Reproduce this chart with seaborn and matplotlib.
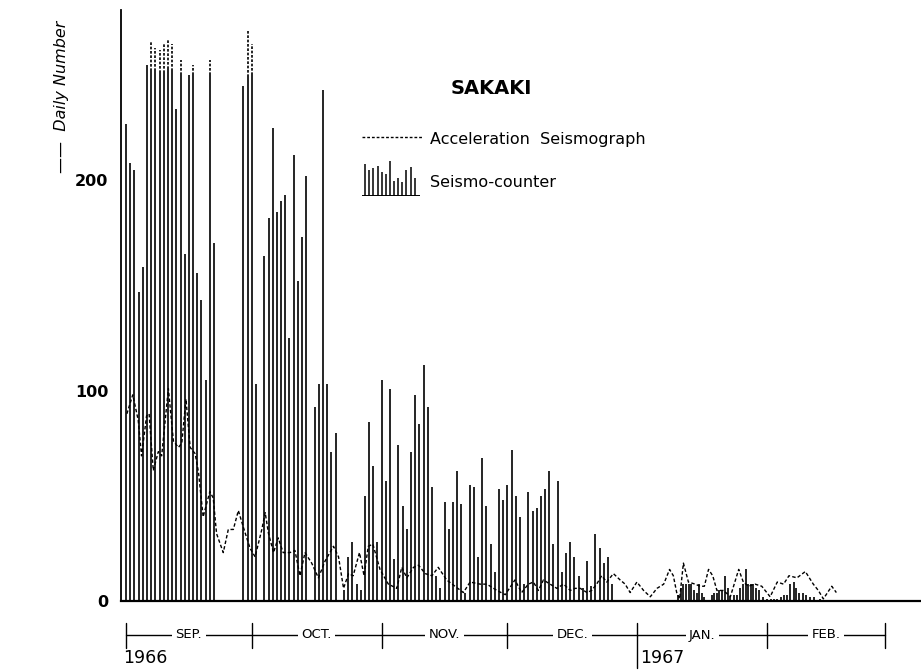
# SAKAKI daily earthquake numbers, Sep 1966 - Feb 1967
import numpy as np
import pandas as pd
import matplotlib
matplotlib.use("Agg")
import matplotlib.pyplot as plt
import seaborn as sns
from matplotlib.lines import Line2D
from matplotlib.transforms import blended_transform_factory
from matplotlib.ticker import MultipleLocator, FuncFormatter

# ==============================
# DATA  (day 0 = 1 Sep 1966)
# ==============================
# seismo-counter, daily number
sep_day = list(range(0, 22))
sep_num = [227, 208, 205, 147, 159, 255, 252, 252, 251, 251, 253, 252,
           234, 250, 165, 250, 250, 156, 143, 105, 250, 170]

oct_day = [28, 29, 30, 31, 33, 34, 35, 36, 37, 38, 39, 40, 41, 42, 43,
           45, 46, 47, 48, 49, 50, 52]
oct_num = [245, 249, 250, 103, 164, 182, 225, 185, 190, 193, 125, 212, 152,
           173, 202, 92, 103, 243, 103, 71, 80, 5]

novdec_day = list(range(53, 117))
novdec_num = [21, 28, 8, 5, 50, 85, 64, 28, 105, 57, 101, 20, 74, 45, 34, 71,
              98, 84, 112, 92, 54, 12, 6, 47, 34, 47, 62, 46, 4, 55, 54, 21,
              68, 45, 27, 14, 53, 48, 55, 72, 50, 40, 8, 52, 43, 44, 50, 53,
              62, 27, 57, 14, 23, 28, 21, 12, 6, 19, 7, 32, 25, 18, 21, 8]

janfeb_day = [131.8, 132.4, 133.0, 133.6, 134.3, 134.9, 135.6, 136.2, 136.8,
              137.5, 138.0, 139.8, 140.4, 141.0, 141.6, 142.2, 143.0, 143.6,
              144.2, 145.0, 145.8, 146.6, 147.3, 148.0, 148.5, 149.1, 149.7,
              150.4, 151.1, 152.1, 152.9, 153.9, 154.7, 155.4, 156.2, 157.0,
              157.8, 158.5, 159.3, 159.9, 160.7, 161.5, 162.3, 163.2, 164.2,
              165.6]
janfeb_num = [3, 6, 8, 8, 8, 8, 5, 4, 8, 4, 2, 3, 4, 4, 5, 5, 12, 6, 2, 3, 3,
              6, 8, 15, 8, 8, 8, 6, 5, 2, 1, 1, 1, 1, 2, 3, 3, 8, 9, 6, 4, 4,
              3, 2, 2, 1]

# days where the acceleration seismograph count tops the counter bar
over_day = [6, 7, 8, 9, 10, 11, 13, 16, 20, 29, 30]
over_num = [266, 263, 262, 265, 267, 265, 257, 255, 257, 271, 265]

# acceleration seismograph (dashed curve)
accel_day = [0.2, 1.6, 2.9, 3.7, 4.9, 5.5, 6.5, 7.7, 8.5, 10.1,
             11.3, 12.5, 13.3, 14.3, 15.3, 16.5, 17.3, 18.4, 20.0, 20.8,
             21.6, 23.2, 24.4, 25.6, 26.8, 28.0, 29.6, 30.8, 32.4, 33.2,
             34.0, 35.2, 36.3, 37.5, 39.1, 40.3, 41.5, 42.7, 44.3, 45.9,
             47.5, 49.5, 50.7, 51.9, 53.1, 54.2, 55.7, 56.8, 57.8, 58.9,
             60.6, 62.6, 64.6, 65.8, 67.0, 68.6, 69.8, 71.4, 73.0, 74.5,
             76.5, 78.5, 80.5, 82.1, 84.5, 86.1, 88.5, 90.5, 92.8, 94.4,
             96.0, 97.2, 98.4, 99.6, 101.2, 102.8, 104.4, 106.0, 107.2, 108.4,
             110.0, 111.1, 112.3, 113.5, 114.7, 116.3, 117.9, 119.1, 120.3, 121.9,
             123.5, 125.1, 126.7, 128.3, 129.7, 130.6, 131.4, 132.1, 133.0, 134.2,
             135.8, 137.0, 138.0, 139.0, 140.0, 141.0, 142.6, 144.2, 146.2, 147.3,
             148.5, 150.1, 151.7, 153.7, 155.4, 156.9, 158.2, 160.1, 162.1, 164.0,
             165.2, 166.4, 168.4, 169.5]
accel_num = [89, 98, 86, 69, 88, 89, 62, 71, 69, 101,
             76, 73, 75, 96, 73, 70, 61, 40, 52, 49,
             32, 23, 34, 34, 43, 35, 25, 21, 34, 42,
             32, 23, 30, 23, 23, 24, 12, 23, 18, 11,
             19, 26, 21, 6, 13, 12, 23, 12, 26, 27,
             15, 8, 6, 16, 11, 16, 17, 13, 12, 16,
             10, 7, 4, 9, 8, 8, 5, 3, 10, 4,
             8, 9, 5, 10, 8, 6, 8, 5, 6, 6,
             4, 5, 8, 12, 9, 13, 10, 8, 4, 9,
             5, 2, 6, 8, 15, 12, 4, 1, 18, 9,
             8, 7, 7, 15, 12, 5, 5, 2, 15, 9,
             7, 8, 7, 2, 9, 8, 12, 11, 14, 8,
             5, 1, 7, 4]

month_names = ["SEP.", "OCT.", "NOV.", "DEC.", "JAN.", "FEB."]
month_start = [0, 30, 61, 91, 122, 153, 181]

# little bars of the legend symbol
legend_bars = [32, 26, 28, 30, 24, 22, 35, 15, 18, 14, 26, 29, 18]

counter = pd.DataFrame({
    "day": sep_day + oct_day + novdec_day + janfeb_day,
    "num": sep_num + oct_num + novdec_num + janfeb_num,
})
accel = pd.DataFrame({"day": accel_day, "num": accel_num})

# ==============================
# STYLE
# ==============================
sns.set_style("white")
plt.rcParams["font.family"] = ["DejaVu Sans"]
plt.rcParams["text.color"] = "black"
plt.rcParams["axes.edgecolor"] = "black"
plt.rcParams["ytick.color"] = "black"
plt.rcParams["ytick.labelcolor"] = "black"

fig = plt.figure(figsize=(9.21, 6.72), dpi=100)
ax = fig.add_axes([0.1314, 0.1057, 0.8686, 0.8795])

# ==============================
# BARS + DASHED CURVE
# ==============================
ax.vlines(counter["day"], 0, counter["num"], color="black", lw=1.2,
          capstyle="butt")
sep_top = dict(zip(sep_day + oct_day, sep_num + oct_num))
ax.vlines(over_day, [sep_top[d] for d in over_day], over_num, color="black",
          lw=1.2, linestyles=(0, (1.6, 1.0)))

sns.lineplot(data=accel, x="day", y="num", ax=ax, color="black", lw=1.0,
             linestyle=(0, (2.5, 1.6)), legend=False)

ax.set_xlim(-1.2, 189.7)
ax.set_ylim(0, 281)
ax.set_xlabel("")
ax.set_ylabel("")
ax.set_xticks([])

ax.yaxis.set_major_locator(MultipleLocator(50))
ax.yaxis.set_minor_locator(MultipleLocator(10))
ax.yaxis.set_major_formatter(
    FuncFormatter(lambda v, p: f"{int(v)}" if v % 100 == 0 else ""))
ax.tick_params(axis="y", which="major", direction="out", length=7, width=1.1,
               labelsize=11.5, pad=2)
ax.tick_params(axis="y", which="minor", direction="out", length=3, width=1.0)
for lab in ax.get_yticklabels():
    lab.set_fontweight("bold")
for s in ["top", "right"]:
    ax.spines[s].set_visible(False)
ax.spines["left"].set_linewidth(1.3)
ax.spines["bottom"].set_linewidth(1.6)

fig.text(0.0673, 0.856, "\u2014\u2014  Daily Number", rotation=90,
         style="italic", fontsize=11.5, ha="center", va="center")

# ==============================
# TITLE AND LEGEND
# ==============================
fig.text(0.533, 0.8676, "SAKAKI", fontsize=14, fontweight="bold",
         ha="center", va="center")

fig.add_artist(Line2D([0.393, 0.458], [0.7955, 0.7955], transform=fig.transFigure,
                      color="black", lw=1.0, linestyle=(0, (2.0, 1.4))))
fig.text(0.4669, 0.7917, "Acceleration  Seismograph", fontsize=11.5,
         ha="left", va="center")

icon = fig.add_axes([0.393, 0.7083, 0.063, 0.0536])
icon.vlines(range(len(legend_bars)), 0, legend_bars, color="black", lw=1.1)
icon.axhline(0, color="black", lw=1.4)
icon.set_xlim(-0.8, 13.3)
icon.set_ylim(0, 36)
icon.axis("off")
fig.text(0.4669, 0.7277, "Seismo-counter", fontsize=11.5, ha="left",
         va="center")

# ==============================
# MONTH SCALE UNDER THE AXIS
# ==============================
tr = blended_transform_factory(ax.transData, fig.transFigure)
y_line = 1 - 635 / 672
ax.plot([month_start[0], month_start[-1]], [y_line, y_line], transform=tr,
        color="black", lw=1.0, clip_on=False)
for i, d in enumerate(month_start):
    y_low = 1 - 668 / 672 if i == 4 else 1 - 648 / 672
    ax.plot([d, d], [1 - 623 / 672, y_low], transform=tr, color="black",
            lw=1.0, clip_on=False)
for i, name in enumerate(month_names):
    mid = (month_start[i] + month_start[i + 1]) / 2
    ax.text(mid, y_line, name, transform=tr, ha="center", va="center",
            fontsize=9.5, bbox=dict(fc="white", ec="none", pad=2.5))
ax.text(-0.8, 1 - 658 / 672, "1966", transform=tr, ha="left", va="center",
        fontsize=12.5)
ax.text(122.6, 1 - 658 / 672, "1967", transform=tr, ha="left", va="center",
        fontsize=12.5)

fig.savefig("out.png", dpi=100)
